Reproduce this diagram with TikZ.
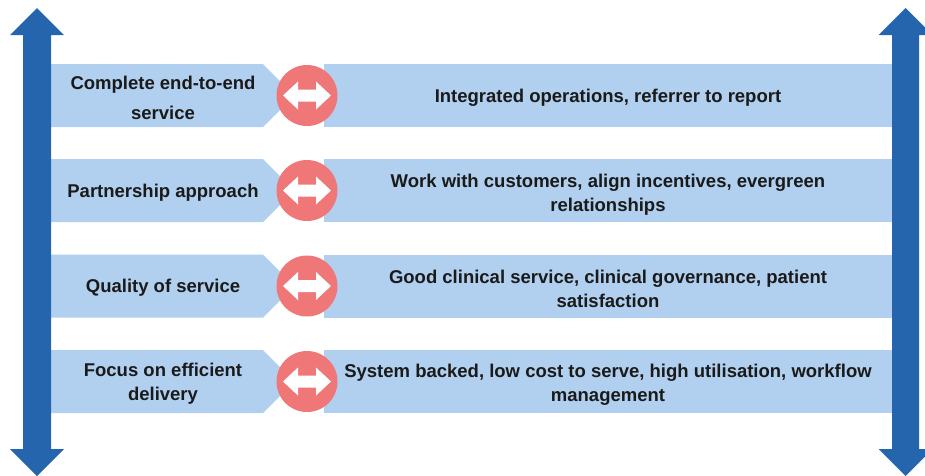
\documentclass[tikz,border=0pt]{standalone}
\usepackage{fontspec}
\setmainfont{Liberation Sans}
\definecolor{darkblue}{HTML}{2565AE}
\definecolor{lightblue}{HTML}{B1D0EF}
\definecolor{coral}{HTML}{F07777}
\definecolor{txt}{HTML}{1A1A1A}
\tikzset{
  band/.style={fill=lightblue},
  bigarrow/.style={fill=darkblue},
  linkcircle/.style={circle,fill=coral,minimum size=61pt,inner sep=0pt},
  linkarrow/.style={fill=white},
  label/.style={text=txt,align=center,inner sep=0pt,
    font=\fontsize{18.5}{23.5}\selectfont\bfseries},
  widelabel/.style={label,font=\fontsize{18.5}{30}\selectfont\bfseries}
}
\begin{document}
\begin{tikzpicture}[x=1pt,y=-1pt]
\useasboundingbox (0,0) rectangle (925,475);
\clip (0,0) rectangle (925,475);
% bands
\foreach \y in {95.5,190.5,286,381.5}{
  \fill[band] (45,\y-31.5) -- (263,\y-31.5) -- (294.5,\y) -- (263,\y+31.5) -- (45,\y+31.5) -- cycle;
  \fill[band] (324,\y-31.5) rectangle (898,\y+31.5);
}
% vertical double arrows
\fill[bigarrow] (37,8) -- (64,35) -- (51,35) -- (51,449) -- (64,449) -- (37,476) -- (10,449) -- (23,449) -- (23,35) -- (10,35) -- cycle;
\fill[bigarrow] (905.5,8) -- (932.5,35) -- (919,35) -- (919,449) -- (932.5,449) -- (905.5,476) -- (878.5,449) -- (892,449) -- (892,35) -- (878.5,35) -- cycle;
% circles with white double arrows
\foreach \y [count=\i] in {95.5,190.5,286,381.5}{
  \node[linkcircle] (c\i) at (307,\y) {};
  \fill[linkarrow] (283,\y) -- (298,\y-14) -- (298,\y-6) -- (316,\y-6) -- (316,\y-14) -- (331,\y) -- (316,\y+14) -- (316,\y+6) -- (298,\y+6) -- (298,\y+14) -- cycle;
}
% texts
\node[widelabel] (l1) at (163,97.5) {Complete end-to-end\\service};
\node[label] (l2) at (163,192.5) {Partnership approach};
\node[label] (l3) at (163,288) {Quality of service};
\node[label] (l4) at (163,383.5) {Focus on efficient\\delivery};
\node[label] (r1) at (608,98) {Integrated operations, referrer to report};
\node[label] (r2) at (608,194.5) {Work with customers, align incentives, evergreen\\relationships};
\node[label] (r3) at (608,289) {Good clinical service, clinical governance, patient\\satisfaction};
\node[label] (r4) at (608,384.5) {System backed, low cost to serve, high utilisation, workflow\\management};
\end{tikzpicture}
\end{document}
